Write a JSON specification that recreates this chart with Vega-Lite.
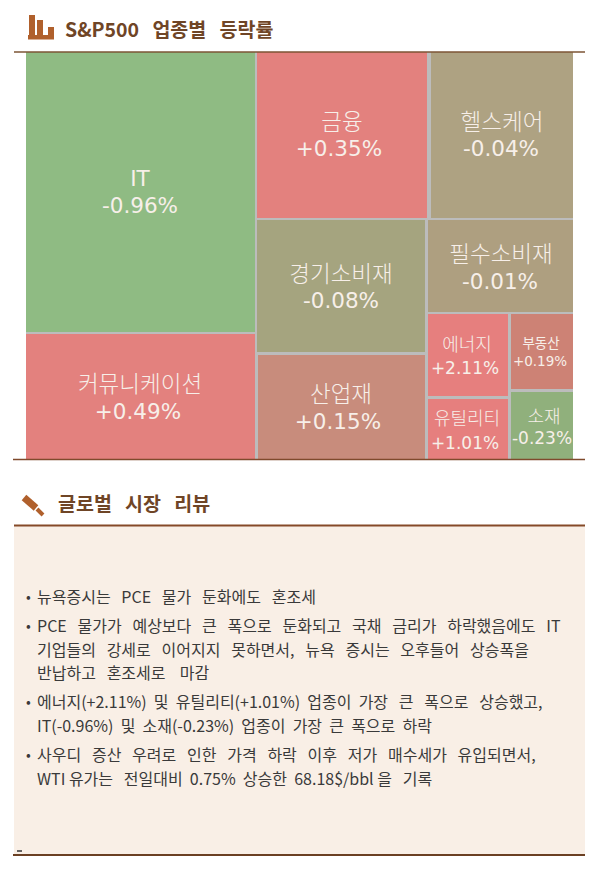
{"$schema":"https://vega.github.io/schema/vega-lite/v6.json","width":600,"height":869,"autosize":{"type":"fit","contains":"padding"},"padding":0,"background":"#ffffff","config":{"view":{"stroke":null}},
"datasets":{
"cells":[
{"sector":"IT","x0":26,"x1":255,"y0":52,"y1":332},
{"sector":"커뮤니케이션","x0":26,"x1":255,"y0":334,"y1":459},
{"sector":"금융","x0":257,"x1":427,"y0":52,"y1":218},
{"sector":"헬스케어","x0":431,"x1":573,"y0":52,"y1":218},
{"sector":"경기소비재","x0":257,"x1":425,"y0":220,"y1":352},
{"sector":"산업재","x0":258,"x1":425,"y0":355,"y1":459},
{"sector":"필수소비재","x0":428,"x1":573,"y0":220,"y1":312},
{"sector":"에너지","x0":428,"x1":508,"y0":314,"y1":396},
{"sector":"부동산","x0":511,"x1":573,"y0":314,"y1":389},
{"sector":"유틸리티","x0":428,"x1":508,"y0":399,"y1":459},
{"sector":"소재","x0":511,"x1":573,"y0":392,"y1":459}],
"nameL":[
{"t":"금융","x":342,"y":123},
{"t":"헬스케어","x":502,"y":123},
{"t":"경기소비재","x":341,"y":275},
{"t":"필수소비재","x":501,"y":255},
{"t":"커뮤니케이션","x":140,"y":385},
{"t":"산업재","x":341,"y":395}],
"valL":[
{"t":"IT","x":140,"y":180},
{"t":"-0.96%","x":140,"y":207},
{"t":"+0.35%","x":339,"y":150},
{"t":"-0.04%","x":501,"y":150},
{"t":"-0.08%","x":341,"y":302},
{"t":"-0.01%","x":500,"y":283},
{"t":"+0.49%","x":138,"y":413},
{"t":"+0.15%","x":338,"y":423}],
"nameM":[
{"t":"에너지","x":467,"y":346},
{"t":"유틸리티","x":467,"y":420},
{"t":"소재","x":544,"y":418}],
"valM":[
{"t":"+2.11%","x":465,"y":369},
{"t":"+1.01%","x":465,"y":444},
{"t":"-0.23%","x":542,"y":439}],
"small":[
{"t":"부동산","x":541,"y":344},{"t":"+0.19%","x":540,"y":362}],
"heads":[
{"t":"S&P500\u00a0\u00a0\u00a0업종별\u00a0\u00a0\u00a0등락률","x":65,"y":31},
{"t":"글로벌\u00a0\u00a0\u00a0시장\u00a0\u00a0\u00a0리뷰","x":58,"y":505}],
"body":[
{"t":"뉴욕증시는\u00a0\u00a0\u00a0PCE\u00a0\u00a0\u00a0물가\u00a0\u00a0\u00a0둔화에도\u00a0\u00a0\u00a0혼조세","x":37,"y":598},
{"t":"PCE\u00a0\u00a0\u00a0물가가\u00a0\u00a0\u00a0예상보다\u00a0\u00a0\u00a0큰\u00a0\u00a0\u00a0폭으로\u00a0\u00a0\u00a0둔화되고\u00a0\u00a0\u00a0국채\u00a0\u00a0\u00a0금리가\u00a0\u00a0\u00a0하락했음에도\u00a0\u00a0\u00a0IT","x":37,"y":627},
{"t":"기업들의\u00a0\u00a0\u00a0강세로\u00a0\u00a0\u00a0이어지지\u00a0\u00a0\u00a0못하면서,\u00a0\u00a0\u00a0뉴욕\u00a0\u00a0\u00a0증시는\u00a0\u00a0\u00a0오후들어\u00a0\u00a0\u00a0상승폭을","x":37,"y":651},
{"t":"반납하고\u00a0\u00a0\u00a0혼조세로\u00a0\u00a0\u00a0\u00a0마감","x":37,"y":674},
{"t":"에너지(+2.11%)\u00a0\u00a0및\u00a0\u00a0유틸리티(+1.01%)\u00a0\u00a0업종이\u00a0\u00a0가장\u00a0\u00a0\u00a0큰\u00a0\u00a0\u00a0폭으로\u00a0\u00a0\u00a0상승했고,","x":37,"y":703},
{"t":"IT(-0.96%)\u00a0\u00a0및\u00a0\u00a0소재(-0.23%)\u00a0\u00a0업종이\u00a0\u00a0가장\u00a0\u00a0큰\u00a0\u00a0폭으로\u00a0\u00a0하락","x":37,"y":727},
{"t":"사우디\u00a0\u00a0\u00a0증산\u00a0\u00a0\u00a0우려로\u00a0\u00a0\u00a0인한\u00a0\u00a0\u00a0가격\u00a0\u00a0\u00a0하락\u00a0\u00a0\u00a0이후\u00a0\u00a0\u00a0저가\u00a0\u00a0\u00a0매수세가\u00a0\u00a0\u00a0유입되면서,","x":37,"y":756},
{"t":"WTI 유가는\u00a0\u00a0\u00a0전일대비\u00a0\u00a00.75%\u00a0\u00a0상승한\u00a0\u00a068.18$/bbl 을\u00a0\u00a0\u00a0기록","x":37,"y":780}],
"bullets":[{"t":"•","x":26,"y":598},{"t":"•","x":26,"y":627},{"t":"•","x":26,"y":703},{"t":"•","x":26,"y":756}],
"iconbars":[
{"x0":28,"x1":54,"y0":35,"y1":39.5},
{"x0":29,"x1":35,"y0":15,"y1":35},
{"x0":37,"x1":43,"y0":20,"y1":35},
{"x0":48,"x1":54,"y0":27,"y1":35}]
},
"layer":[
{"data":{"values":[{"x0":14,"x1":585,"y0":526,"y1":855}]},"mark":{"type":"rect","color":"#f9efe6"},"encoding":{"x":{"field":"x0","type":"quantitative","scale":{"domain":[0,600],"nice":false,"zero":false},"axis":null},"x2":{"field":"x1"},"y":{"field":"y0","type":"quantitative","scale":{"domain":[869,0],"nice":false,"zero":false},"axis":null},"y2":{"field":"y1"}}},
{"data":{"values":[{"x0":26,"x1":573,"y0":52,"y1":459}]},"mark":{"type":"rect","color":"#bcbcbc"},"encoding":{"x":{"field":"x0","type":"quantitative","axis":null},"x2":{"field":"x1"},"y":{"field":"y0","type":"quantitative","axis":null},"y2":{"field":"y1"}}},
{"data":{"name":"cells"},"mark":{"type":"rect"},"encoding":{"x":{"field":"x0","type":"quantitative","axis":null},"x2":{"field":"x1"},"y":{"field":"y0","type":"quantitative","axis":null},"y2":{"field":"y1"},"color":{"field":"sector","type":"nominal","legend":null,"scale":{"domain":["IT","커뮤니케이션","금융","헬스케어","경기소비재","산업재","필수소비재","에너지","부동산","유틸리티","소재"],"range":["#8fbb83","#e3817e","#e3817e","#aea282","#a5a47f","#c88c7c","#ae9f80","#e67f7e","#cd8275","#e67f7e","#90b07c"]}}}},
{"data":{"values":[{"x0":14,"x1":585,"y":52}]},"mark":{"type":"rule","color":"#7d5535","strokeWidth":1.5},"encoding":{"x":{"field":"x0","type":"quantitative","axis":null},"x2":{"field":"x1"},"y":{"field":"y","type":"quantitative","axis":null}}},
{"data":{"values":[{"x0":13,"x1":585,"y":459.5}]},"mark":{"type":"rule","color":"#7f4a2c","strokeWidth":1.5},"encoding":{"x":{"field":"x0","type":"quantitative","axis":null},"x2":{"field":"x1"},"y":{"field":"y","type":"quantitative","axis":null}}},
{"data":{"values":[{"x0":14,"x1":585,"y":525.5}]},"mark":{"type":"rule","color":"#854a28","strokeWidth":2},"encoding":{"x":{"field":"x0","type":"quantitative","axis":null},"x2":{"field":"x1"},"y":{"field":"y","type":"quantitative","axis":null}}},
{"data":{"values":[{"x0":13,"x1":585,"y":855}]},"mark":{"type":"rule","color":"#6b4023","strokeWidth":2},"encoding":{"x":{"field":"x0","type":"quantitative","axis":null},"x2":{"field":"x1"},"y":{"field":"y","type":"quantitative","axis":null}}},
{"data":{"values":[{"x0":17,"x1":22,"y":851}]},"mark":{"type":"rule","color":"#333333","strokeWidth":1.5},"encoding":{"x":{"field":"x0","type":"quantitative","axis":null},"x2":{"field":"x1"},"y":{"field":"y","type":"quantitative","axis":null}}},
{"data":{"name":"iconbars"},"mark":{"type":"rect","color":"#b0602c"},"encoding":{"x":{"field":"x0","type":"quantitative","axis":null},"x2":{"field":"x1"},"y":{"field":"y0","type":"quantitative","axis":null},"y2":{"field":"y1"}}},
{"data":{"values":[{"x0":24,"x1":36,"y0":497.5,"y1":508}]},"mark":{"type":"rule","color":"#b0602c","strokeWidth":7},"encoding":{"x":{"field":"x0","type":"quantitative","axis":null},"x2":{"field":"x1"},"y":{"field":"y0","type":"quantitative","axis":null},"y2":{"field":"y1"}}},
{"data":{"values":[{"x0":37,"x1":43,"y0":509,"y1":515}]},"mark":{"type":"rule","color":"#b0602c","strokeWidth":4},"encoding":{"x":{"field":"x0","type":"quantitative","axis":null},"x2":{"field":"x1"},"y":{"field":"y0","type":"quantitative","axis":null},"y2":{"field":"y1"}}},
{"data":{"name":"nameL"},"mark":{"type":"text","font":"DejaVu Sans, Noto Sans CJK KR","fontSize":22.5,"fontWeight":300,"color":"#f7efe9","align":"center","baseline":"middle"},"encoding":{"x":{"field":"x","type":"quantitative","axis":null},"y":{"field":"y","type":"quantitative","axis":null},"text":{"field":"t"}}},
{"data":{"name":"valL"},"mark":{"type":"text","font":"DejaVu Sans, Noto Sans CJK KR","fontSize":21.5,"color":"#f7efe9","align":"center","baseline":"middle"},"encoding":{"x":{"field":"x","type":"quantitative","axis":null},"y":{"field":"y","type":"quantitative","axis":null},"text":{"field":"t"}}},
{"data":{"name":"nameM"},"mark":{"type":"text","font":"DejaVu Sans, Noto Sans CJK KR","fontSize":18,"fontWeight":300,"color":"#f7efe9","align":"center","baseline":"middle"},"encoding":{"x":{"field":"x","type":"quantitative","axis":null},"y":{"field":"y","type":"quantitative","axis":null},"text":{"field":"t"}}},
{"data":{"name":"valM"},"mark":{"type":"text","font":"DejaVu Sans, Noto Sans CJK KR","fontSize":17,"color":"#f7efe9","align":"center","baseline":"middle"},"encoding":{"x":{"field":"x","type":"quantitative","axis":null},"y":{"field":"y","type":"quantitative","axis":null},"text":{"field":"t"}}},
{"data":{"name":"small"},"mark":{"type":"text","font":"DejaVu Sans, Noto Sans CJK KR","fontSize":13.5,"color":"#f7efe9","align":"center","baseline":"middle"},"encoding":{"x":{"field":"x","type":"quantitative","axis":null},"y":{"field":"y","type":"quantitative","axis":null},"text":{"field":"t"}}},
{"data":{"name":"heads"},"mark":{"type":"text","font":"Noto Sans CJK KR","fontSize":19.5,"fontWeight":"bold","color":"#6f4526","align":"left","baseline":"middle"},"encoding":{"x":{"field":"x","type":"quantitative","axis":null},"y":{"field":"y","type":"quantitative","axis":null},"text":{"field":"t"}}},
{"data":{"name":"body"},"mark":{"type":"text","font":"Noto Sans CJK KR","fontSize":16,"color":"#3a3a3a","align":"left","baseline":"middle"},"encoding":{"x":{"field":"x","type":"quantitative","axis":null},"y":{"field":"y","type":"quantitative","axis":null},"text":{"field":"t"}}},
{"data":{"name":"bullets"},"mark":{"type":"text","font":"Noto Sans CJK KR","fontSize":14,"color":"#3a3a3a","align":"left","baseline":"middle"},"encoding":{"x":{"field":"x","type":"quantitative","axis":null},"y":{"field":"y","type":"quantitative","axis":null},"text":{"field":"t"}}}
]}
